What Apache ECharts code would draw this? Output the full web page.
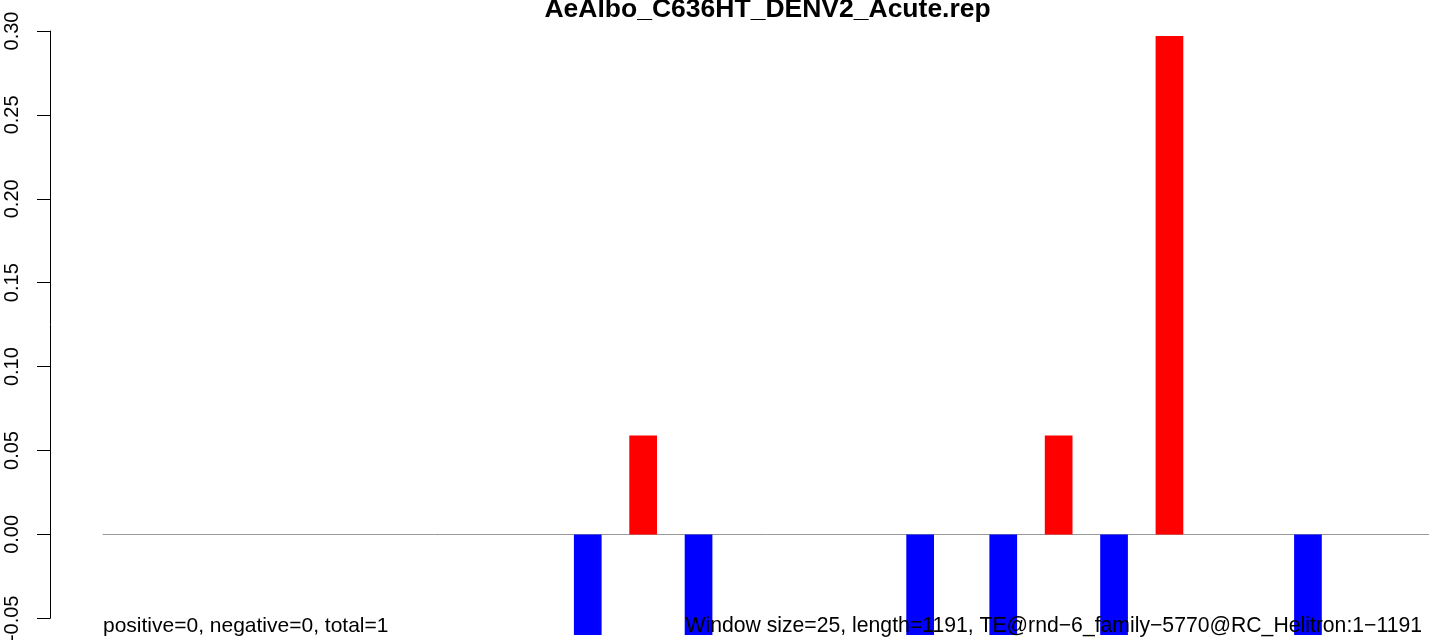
<!DOCTYPE html>
<html>
<head>
<meta charset="utf-8">
<script src="https://cdn.jsdelivr.net/npm/echarts@6/dist/echarts.min.js"></script>
<style>
  html, body { margin: 0; padding: 0; background: #fff; }
  #chart { width: 1429px; height: 641px; }
</style>
</head>
<body>
<div id="chart"></div>
<script>
// 48 windows of 25 bp over a 1191 bp TE
const windows = Array.from({ length: 48 }, (_, i) => String(i + 1));
// value per window (0 = no bar)
const values = [
  0, 0, 0, 0, 0, 0, 0, 0, 0, 0,
  0, 0, 0, 0, 0, 0, 0, -0.06, 0, 0.059,
  0, -0.06, 0, 0, 0, 0, 0, 0, 0, -0.06,
  0, 0, -0.06, 0, 0.059, 0, -0.06, 0, 0.297, 0,
  0, 0, 0, -0.06, 0, 0, 0, 0
];
const yTicks = { min: -0.05, max: 0.30, step: 0.05 };

const titleText = 'AeAlbo_C636HT_DENV2_Acute.rep';
const leftNote = 'positive=0, negative=0, total=1';
const rightNote = 'Window size=25, length=1191, TE@rnd\u22126_family\u22125770@RC_Helitron:1\u22121191';

const font = '"Liberation Sans", Arial, Helvetica, sans-serif';
const chart = echarts.init(document.getElementById('chart'));

chart.setOption({
  animation: false,
  backgroundColor: '#fff',
  textStyle: { fontFamily: font },
  grid: { left: 103, top: 31, width: 1329.6, height: 587.3, outerBoundsMode: 'none', containLabel: false },
  xAxis: {
    type: 'category',
    data: windows,
    boundaryGap: true,
    axisLine: { show: true, onZero: true, lineStyle: { color: '#999', width: 1 } },
    axisTick: { show: false },
    axisLabel: { show: false },
    splitLine: { show: false }
  },
  yAxis: {
    type: 'value',
    min: yTicks.min,
    max: yTicks.max,
    interval: yTicks.step,
    offset: 53,
    axisLine: { show: true, lineStyle: { color: '#000', width: 1 } },
    axisTick: { show: true, length: 13, lineStyle: { color: '#000' } },
    axisLabel: {
      rotate: 90,
      margin: 28,
      fontSize: 20,
      color: '#000',
      fontFamily: font,
      formatter: v => v.toFixed(2)
    },
    splitLine: { show: false }
  },
  series: [{
    type: 'bar',
    data: values,
    clip: false,
    barCategoryGap: '0%',
    itemStyle: {
      color: p => (p.value > 0 ? '#ff0000' : '#0000ff')
    }
  }],
  // notes are drawn on top of the bars, as in the original plot
  graphic: [
    {
      type: 'text', x: 767.6, y: 23, z: 100,
      style: { text: titleText, font: 'bold 26.5px ' + font, fill: '#000', align: 'center', verticalAlign: 'bottom' }
    },
    {
      type: 'text', x: 103, y: 637, z: 100,
      style: { text: leftNote, font: '21px ' + font, fill: '#000', align: 'left', verticalAlign: 'bottom' }
    },
    {
      type: 'text', x: 1422, y: 637, z: 100,
      style: { text: rightNote, font: '21.2px ' + font, fill: '#000', align: 'right', verticalAlign: 'bottom' }
    }
  ]
});
</script>
</body>
</html>
